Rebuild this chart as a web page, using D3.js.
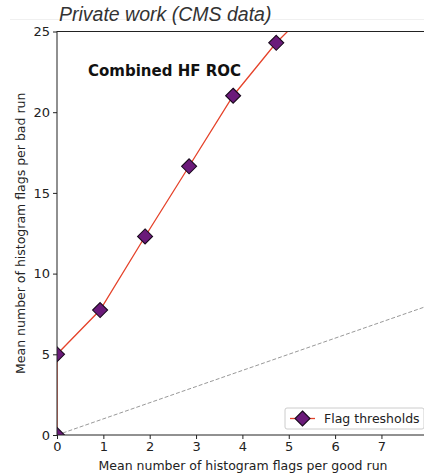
<!DOCTYPE html>
<html>
<head>
<meta charset="utf-8">
<script src="https://cdn.jsdelivr.net/npm/d3@7"></script>
<style>
  body { margin: 0; background: #fff; }
  text { font-family: "DejaVu Sans", sans-serif; }
</style>
</head>
<body>
<div id="viz"></div>
<script>
// data
var goodRate = [0, 0, 0.93, 1.90, 2.85, 3.80, 4.73, 5.60];
var badRate = [0, 5.0, 7.74, 12.3, 16.65, 21.02, 24.3, 26.8];
var xTicks = [0, 1, 2, 3, 4, 5, 6, 7, 8];
var yTicks = [0, 5, 10, 15, 20, 25];
var diagonal = [0, 9];

var width = 424,
    height = 475,
    margin = {top: 31.5, left: 57, bottom: 40};

var svg = d3.select("#viz")
  .append("svg")
  .attr("width", width)
  .attr("height", height);

var xScale = d3.scaleLinear().domain([0, 8]).range([margin.left, margin.left + 8 * 46.35]),
    yScale = d3.scaleLinear().domain([0, 25]).range([height - margin.bottom, margin.top]);

// faint header rule
svg.append("line")
  .attr("x1", 10).attr("x2", width)
  .attr("y1", 19.5).attr("y2", 19.5)
  .attr("stroke", "#f0f0f0");

// header text
svg.append("text")
  .attr("x", 59)
  .attr("y", 21)
  .style("font-family", "'Liberation Sans', Arial, sans-serif")
  .style("font-style", "italic")
  .style("font-size", "19.5px")
  .attr("fill", "#333")
  .text("Private work (CMS data)");

// clip for data
svg.append("clipPath").attr("id", "clip")
  .append("rect")
  .attr("x", xScale(0)).attr("y", yScale(25))
  .attr("width", xScale(8) - xScale(0))
  .attr("height", yScale(0) - yScale(25));

var plot = svg.append("g").attr("clip-path", "url(#clip)");

// random guess line
plot.append("line")
  .attr("x1", xScale(diagonal[0])).attr("y1", yScale(diagonal[0]))
  .attr("x2", xScale(diagonal[1])).attr("y2", yScale(diagonal[1]))
  .attr("stroke", "#999")
  .attr("stroke-width", 1)
  .attr("stroke-dasharray", "4,2");

var pts = goodRate.map((g, i) => ({x: g, y: badRate[i]}));

var line = d3.line()
  .x(d => xScale(d.x))
  .y(d => yScale(d.y));

plot.append("path")
  .datum(pts)
  .attr("fill", "none")
  .attr("stroke", "#e5432b")
  .attr("stroke-width", 1.3)
  .attr("d", line);

var diamond = "M0,-7.5L7.5,0L0,7.5L-7.5,0Z";

plot.selectAll(".pt")
  .data(pts)
  .enter().append("path")
  .attr("class", "pt")
  .attr("transform", d => "translate(" + xScale(d.x) + "," + yScale(d.y) + ")")
  .attr("d", diamond)
  .attr("fill", "#6b1a7a")
  .attr("stroke", "#1a0a1e")
  .attr("stroke-width", 1.1);

// axes
var xAxis = d3.axisBottom(xScale).tickValues(xTicks).tickSize(4).tickPadding(3),
    yAxis = d3.axisLeft(yScale).tickValues(yTicks).tickSize(4).tickPadding(3);

var gx = svg.append("g")
  .attr("transform", "translate(0," + yScale(0) + ")")
  .call(xAxis);
var gy = svg.append("g")
  .attr("transform", "translate(" + xScale(0) + ",0)")
  .call(yAxis);

svg.selectAll(".tick text")
  .style("font-size", "13px")
  .attr("fill", "#222");
svg.selectAll(".tick line").attr("stroke", "#222");
svg.selectAll(".domain").style("display", "none");

// spines
svg.append("rect")
  .attr("x", xScale(0)).attr("y", yScale(25))
  .attr("width", xScale(8) - xScale(0))
  .attr("height", yScale(0) - yScale(25))
  .attr("fill", "none")
  .attr("stroke", "#222")
  .attr("stroke-width", 1);

// title inside
svg.append("text")
  .attr("x", 88)
  .attr("y", 75.5)
  .style("font-weight", "bold")
  .style("font-size", "15px")
  .attr("fill", "#111")
  .text("Combined HF ROC");

// axis labels
svg.append("text")
  .attr("x", 243)
  .attr("y", 470)
  .attr("text-anchor", "middle")
  .style("font-size", "12.5px")
  .attr("fill", "#222")
  .text("Mean number of histogram flags per good run");

svg.append("text")
  .attr("transform", "translate(25," + ((yScale(0) + yScale(25)) / 2) + ") rotate(-90)")
  .attr("text-anchor", "middle")
  .style("font-size", "12.5px")
  .attr("fill", "#222")
  .text("Mean number of histogram flags per bad run");

// legend
var lg = svg.append("g").attr("transform", "translate(285,408)");
lg.append("rect")
  .attr("width", 139).attr("height", 21).attr("rx", 2)
  .attr("fill", "#fff")
  .attr("stroke", "#ccc");
lg.append("line")
  .attr("x1", 5).attr("x2", 30)
  .attr("y1", 10.5).attr("y2", 10.5)
  .attr("stroke", "#e5432b")
  .attr("stroke-width", 1.3);
lg.append("path")
  .attr("transform", "translate(17.5,10.5)")
  .attr("d", diamond)
  .attr("fill", "#6b1a7a")
  .attr("stroke", "#1a0a1e")
  .attr("stroke-width", 1.1);
lg.append("text")
  .attr("x", 39).attr("y", 15)
  .style("font-size", "12.5px")
  .attr("fill", "#222")
  .text("Flag thresholds");
</script>
</body>
</html>
